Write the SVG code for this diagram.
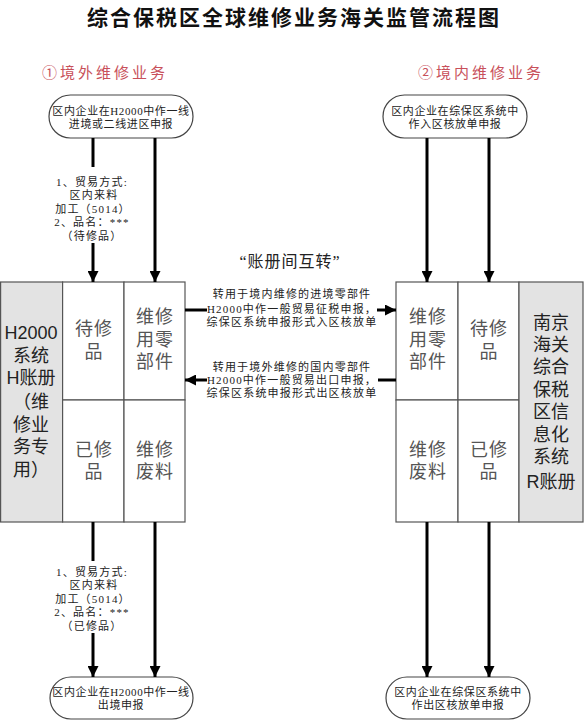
<svg xmlns="http://www.w3.org/2000/svg" width="584" height="720" viewBox="0 0 584 720">
<style>
.title{font-family:"Noto Sans CJK SC",sans-serif;font-size:21px;font-weight:bold;fill:#111;letter-spacing:2px}
.sub{font-family:"Liberation Serif","Noto Sans CJK SC",serif;font-size:15px;fill:#c8505a;letter-spacing:3px}
.term{fill:#fff;stroke:#444;stroke-width:1.2}
.tt{font-family:"Liberation Serif","Noto Sans CJK SC",serif;font-size:11px;fill:#222;letter-spacing:0.6px;text-anchor:middle}
.lbl{font-family:"Liberation Serif","Noto Sans CJK SC",serif;font-size:11px;fill:#222;letter-spacing:1.2px;text-anchor:middle}
.cell{fill:#fff;stroke:#555;stroke-width:1.2}
.gray{fill:#e3e3e3;stroke:#555;stroke-width:1.2}
.ct{font-family:"Liberation Sans","Noto Sans CJK SC",sans-serif;font-size:18px;fill:#555;letter-spacing:1px;text-anchor:middle}
.gt{font-family:"Liberation Sans","Noto Sans CJK SC",sans-serif;font-size:18px;fill:#222;text-anchor:middle}
.conn{stroke:#000;stroke-width:3;fill:none}
.mid{font-family:"Liberation Serif","Noto Sans CJK SC",serif;font-size:16px;fill:#222;text-anchor:middle;letter-spacing:1px}
</style>
<defs>
<marker id="ah" markerUnits="userSpaceOnUse" markerWidth="11" markerHeight="11" refX="11" refY="5.5" orient="auto">
<path d="M0,0 L11,5.5 L0,11 z" fill="#000"/>
</marker>
</defs>
<rect width="584" height="720" fill="#fff"/>

<g id="title"><text class="title" x="294" y="25" text-anchor="middle">综合保税区全球维修业务海关监管流程图</text></g>
<g id="sub1"><text class="sub" x="42" y="78">①境外维修业务</text></g>
<g id="sub2"><text class="sub" x="418" y="78">②境内维修业务</text></g>

<g id="startL">
<rect class="term" x="49" y="95" width="144" height="43" rx="21.5"/>
<text class="tt" x="121" y="115">区内企业在H2000中作一线<tspan x="121" dy="13">进境或二线进区申报</tspan></text>
</g>
<g id="startR">
<rect class="term" x="383" y="95" width="144" height="43" rx="21.5"/>
<text class="tt" x="455" y="115">区内企业在综保区系统中<tspan x="455" dy="13">作入区核放单申报</tspan></text>
</g>

<g id="ledgerH">
<rect class="gray" x="0.6" y="282" width="62" height="240"/>
<rect class="cell" x="62.6" y="282" width="61.4" height="118"/>
<rect class="cell" x="124" y="282" width="61" height="118"/>
<rect class="cell" x="62.6" y="400" width="61.4" height="122"/>
<rect class="cell" x="124" y="400" width="61" height="122"/>
<text class="gt" x="31" y="339">H2000<tspan x="31" dy="23">系统</tspan><tspan x="31" dy="22">H账册</tspan><tspan x="31" dy="24">（维</tspan><tspan x="31" dy="23">修业</tspan><tspan x="31" dy="22">务专</tspan><tspan x="31" dy="23">用）</tspan></text>
<text class="ct" x="94" y="335">待修<tspan x="94" dy="23">品</tspan></text>
<text class="ct" x="155" y="323">维修<tspan x="155" dy="23">用零</tspan><tspan x="155" dy="22">部件</tspan></text>
<text class="ct" x="94" y="456">已修<tspan x="94" dy="22">品</tspan></text>
<text class="ct" x="155" y="456">维修<tspan x="155" dy="22">废料</tspan></text>
</g>

<g id="ledgerR">
<rect class="cell" x="396" y="282" width="62" height="118"/>
<rect class="cell" x="458" y="282" width="61" height="118"/>
<rect class="cell" x="396" y="400" width="62" height="122"/>
<rect class="cell" x="458" y="400" width="61" height="122"/>
<rect class="gray" x="519" y="282" width="64" height="240"/>
<text class="ct" x="428" y="323">维修<tspan x="428" dy="23">用零</tspan><tspan x="428" dy="22">部件</tspan></text>
<text class="ct" x="489" y="335">待修<tspan x="489" dy="23">品</tspan></text>
<text class="ct" x="428" y="456">维修<tspan x="428" dy="22">废料</tspan></text>
<text class="ct" x="489" y="456">已修<tspan x="489" dy="22">品</tspan></text>
<text class="gt" x="551" y="329">南京<tspan x="551" dy="22">海关</tspan><tspan x="551" dy="22">综合</tspan><tspan x="551" dy="23">保税</tspan><tspan x="551" dy="22">区信</tspan><tspan x="551" dy="23">息化</tspan><tspan x="551" dy="22">系统</tspan><tspan x="551" dy="25">R账册</tspan></text>
</g>

<g id="endL">
<rect class="term" x="50" y="677" width="143" height="42" rx="21"/>
<text class="tt" x="121" y="696">区内企业在H2000中作一线<tspan x="121" dy="13">出境申报</tspan></text>
</g>
<g id="endR">
<rect class="term" x="386" y="677" width="144" height="42" rx="21"/>
<text class="tt" x="458" y="696">区内企业在综保区系统中<tspan x="458" dy="13">作出区核放单申报</tspan></text>
</g>

<g id="connectors">
<line class="conn" x1="93" y1="138" x2="93" y2="167"/>
<line class="conn" x1="93" y1="243" x2="93" y2="282" marker-end="url(#ah)"/>
<line class="conn" x1="155" y1="138" x2="155" y2="282" marker-end="url(#ah)"/>
<line class="conn" x1="427" y1="138" x2="427" y2="282" marker-end="url(#ah)"/>
<line class="conn" x1="489" y1="138" x2="489" y2="282" marker-end="url(#ah)"/>
<line class="conn" x1="185" y1="310" x2="207" y2="310"/>
<line class="conn" x1="377" y1="310" x2="396" y2="310" marker-end="url(#ah)"/>
<line class="conn" x1="396" y1="380" x2="378" y2="380"/>
<line class="conn" x1="207" y1="380" x2="185" y2="380" marker-end="url(#ah)"/>
<line class="conn" x1="93" y1="522" x2="93" y2="561"/>
<line class="conn" x1="93" y1="633" x2="93" y2="677" marker-end="url(#ah)"/>
<line class="conn" x1="155" y1="522" x2="155" y2="677" marker-end="url(#ah)"/>
<line class="conn" x1="427" y1="522" x2="427" y2="677" marker-end="url(#ah)"/>
<line class="conn" x1="489" y1="522" x2="489" y2="677" marker-end="url(#ah)"/>
</g>

<g id="labelTop">
<text class="lbl" x="92" y="186">1、贸易方式:<tspan x="94" dy="13">区内来料</tspan><tspan x="93" dy="14">加工（5014）</tspan><tspan x="92" dy="13">2、品名：***</tspan><tspan x="92" dy="14">（待修品）</tspan></text>
</g>
<g id="labelBottom">
<text class="lbl" x="92" y="576">1、贸易方式:<tspan x="94" dy="13">区内来料</tspan><tspan x="93" dy="14">加工（5014）</tspan><tspan x="92" dy="13">2、品名：***</tspan><tspan x="92" dy="14">（已修品）</tspan></text>
</g>
<g id="transfer">
<text class="mid" x="290" y="267">“账册间互转”</text>
<text class="lbl" x="292" y="298">转用于境内维修的进境零部件<tspan x="292" dy="15">H2000中作一般贸易征税申报，</tspan><tspan x="292" dy="13">综保区系统申报形式入区核放单</tspan></text>
<text class="lbl" x="292" y="371">转用于境外维修的国内零部件<tspan x="292" dy="13">H2000中作一般贸易出口申报，</tspan><tspan x="292" dy="13">综保区系统申报形式出区核放单</tspan></text>
</g>
</svg>
